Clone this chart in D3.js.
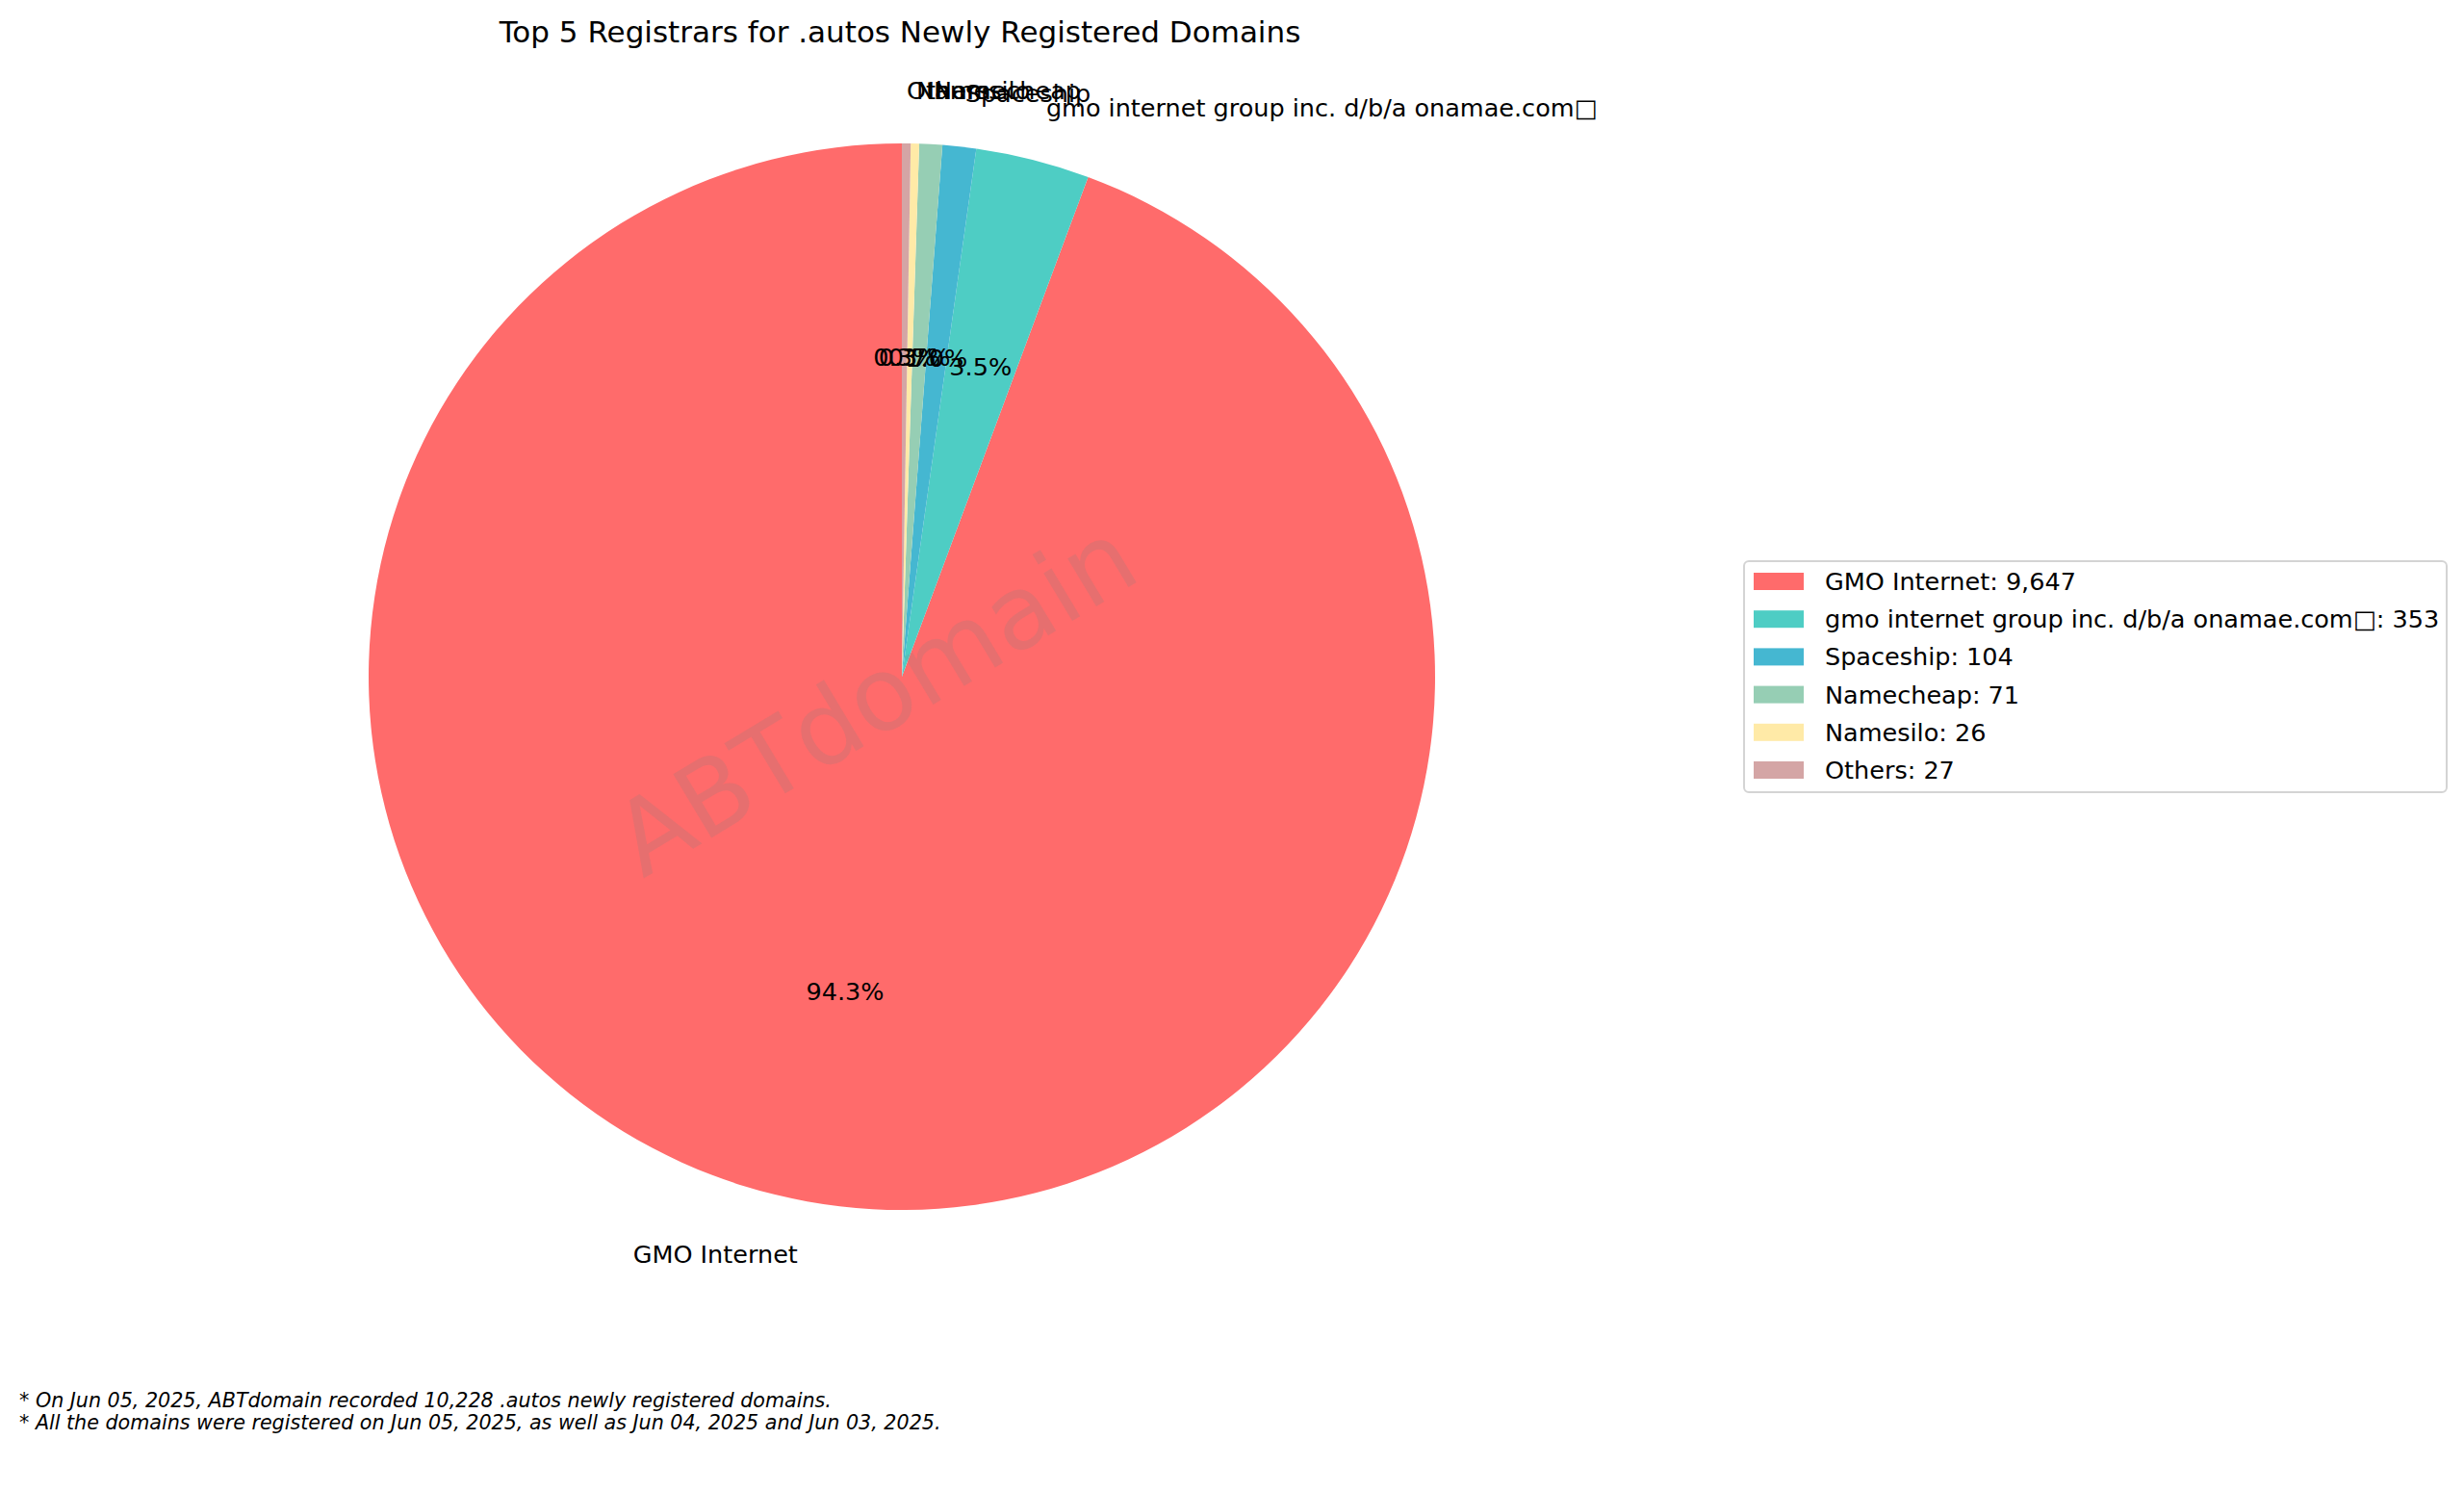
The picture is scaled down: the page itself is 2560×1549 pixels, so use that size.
<!DOCTYPE html>
<html>
<head>
<meta charset="utf-8">
<script src="https://cdn.jsdelivr.net/npm/d3@7"></script>
<style>
  html, body { margin: 0; padding: 0; background: #ffffff; }
  svg { display: block; font-family: "DejaVu Sans", sans-serif; }
</style>
</head>
<body>
<svg id="chart" width="2560" height="1549"></svg>
<script>
// ---- data ----
const registrars = ["GMO Internet", "gmo internet group inc. d/b/a onamae.com\u25A1", "Spaceship", "Namecheap", "Namesilo", "Others"];
const counts = [9647, 353, 104, 71, 26, 27];
const colors = ["#FF6B6B", "#4ECDC4", "#45B7D1", "#96CEB4", "#FFEAA7", "#D4A5A5"];
const titleText = "Top 5 Registrars for .autos Newly Registered Domains";
const footnotes = [
  "* On Jun 05, 2025, ABTdomain recorded 10,228 .autos newly registered domains.",
  "* All the domains were registered on Jun 05, 2025, as well as Jun 04, 2025 and Jun 03, 2025."
];
const watermark = "ABTdomain";

// ---- layout ----
const cx = 937, cy = 703, R = 554;
const fs = 25.5;
const svg = d3.select("#chart");

const total = d3.sum(counts);
const data = registrars.map((name, i) => ({name, value: counts[i], color: colors[i]}));

const pie = d3.pie().sort(null).value(d => d.value).startAngle(0).endAngle(-2 * Math.PI);
const arcs = pie(data);
const arc = d3.arc().innerRadius(0).outerRadius(R);

const g = svg.append("g").attr("transform", `translate(${cx},${cy})`);
g.selectAll("path.slice").data(arcs).join("path")
  .attr("class", "slice")
  .attr("d", arc)
  .attr("fill", d => d.data.color);

const mid = d => (d.startAngle + d.endAngle) / 2;
// outer labels at 1.1 R
g.selectAll("text.lab").data(arcs).join("text")
  .attr("class", "lab")
  .attr("x", d => Math.sin(mid(d)) * R * 1.1)
  .attr("y", d => -Math.cos(mid(d)) * R * 1.1)
  .attr("dy", "0.35em")
  .attr("text-anchor", d => Math.sin(mid(d)) * R * 1.1 > 0 ? "start" : "end")
  .attr("font-size", fs)
  .attr("fill", "#000")
  .text(d => d.data.name);

// percentage labels at 0.6 R
g.selectAll("text.pct").data(arcs).join("text")
  .attr("class", "pct")
  .attr("x", d => Math.sin(mid(d)) * R * 0.6)
  .attr("y", d => -Math.cos(mid(d)) * R * 0.6)
  .attr("dy", "0.35em")
  .attr("text-anchor", "middle")
  .attr("font-size", fs)
  .attr("fill", "#000")
  .text(d => (d.data.value / total * 100).toFixed(1) + "%");

// watermark
svg.append("text")
  .attr("transform", `translate(${cx - 28},${cy + 22}) rotate(-31)`)
  .attr("text-anchor", "middle")
  .attr("dy", "0.35em")
  .attr("font-size", 106)
  .attr("fill", "#808080")
  .attr("fill-opacity", 0.2)
  .text(watermark);

// title
svg.append("text")
  .attr("x", cx - 2).attr("y", 33).attr("dy", "0.35em")
  .attr("text-anchor", "middle")
  .attr("font-size", 31)
  .attr("fill", "#000")
  .text(titleText);

// legend
const lg = svg.append("g");
lg.append("rect")
  .attr("x", 1812).attr("y", 583).attr("width", 730).attr("height", 240)
  .attr("rx", 5).attr("ry", 5)
  .attr("fill", "#fff").attr("fill-opacity", 0.8)
  .attr("stroke", "#d4d4d4").attr("stroke-width", 2);
const ly = d3.scaleLinear().domain([0, data.length - 1]).range([604, 800]);
const items = lg.selectAll("g.item").data(data).join("g")
  .attr("class", "item")
  .attr("transform", (d, i) => `translate(1822,${ly(i)})`);
items.append("rect").attr("x", 0).attr("y", -9).attr("width", 52).attr("height", 18)
  .attr("fill", d => d.color);
items.append("text").attr("x", 74).attr("dy", "0.35em")
  .attr("font-size", fs).attr("fill", "#000")
  .text(d => `${d.name}: ${d3.format(",")(d.value)}`);

// footnotes
svg.selectAll("text.foot").data(footnotes).join("text")
  .attr("class", "foot")
  .attr("x", 20)
  .attr("y", (d, i) => 1455 + i * 23)
  .attr("dy", "0.35em")
  .attr("font-size", 20.65)
  .attr("font-style", "italic")
  .attr("fill", "#000")
  .text(d => d);
</script>
</body>
</html>
